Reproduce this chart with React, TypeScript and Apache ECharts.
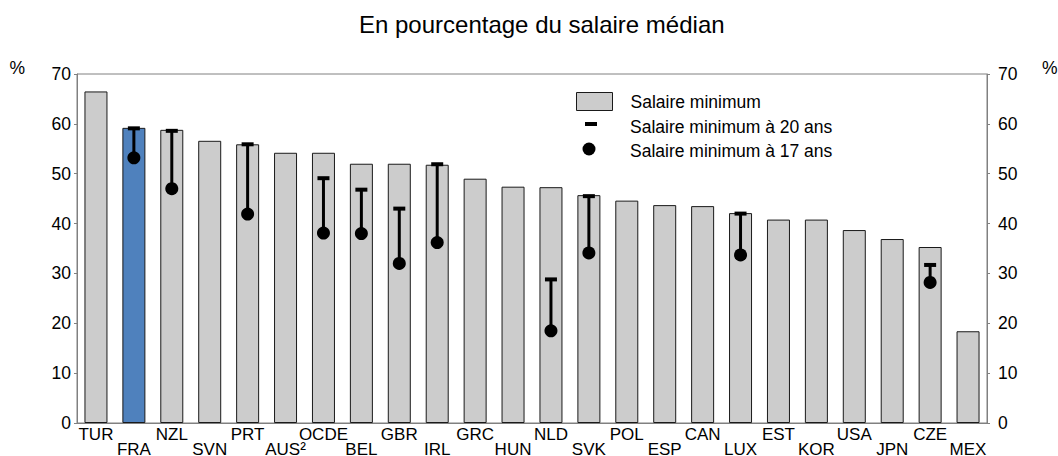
import React, { useEffect, useRef } from "react";
import * as echarts from "echarts";

const categories = ["TUR", "FRA", "NZL", "SVN", "PRT", "AUS²", "OCDE", "BEL", "GBR", "IRL", "GRC", "HUN", "NLD", "SVK", "POL", "ESP", "CAN", "LUX", "EST", "KOR", "USA", "JPN", "CZE", "MEX"];
const minWage = [66.5, 59.2, 58.8, 56.6, 55.9, 54.2, 54.2, 52.0, 52.0, 51.8, 49.0, 47.4, 47.3, 45.7, 44.6, 43.7, 43.5, 42.1, 40.8, 40.8, 38.7, 36.9, 35.3, 18.4];
const minWage20 = [null, 59.1, 58.6, null, 55.9, null, 49.1, 46.8, 43.0, 51.9, null, null, 28.8, 45.5, null, null, null, 42.0, null, null, null, null, 31.7, null];
const minWage17 = [null, 53.2, 47.0, null, 41.9, null, 38.1, 38.0, 32.0, 36.2, null, null, 18.5, 34.1, null, null, null, 33.7, null, null, null, null, 28.2, null];
const yTicks = { min: 0, max: 70, interval: 10 };
const highlighted = "FRA";

const titleText = "En pourcentage du salaire médian";
const seriesNames = ["Salaire minimum", "Salaire minimum à 20 ans", "Salaire minimum à 17 ans"];

const FONT = "'Liberation Sans', Arial, sans-serif";

export default function App() {
  const ref = useRef<HTMLDivElement>(null);
  useEffect(() => {
    if (!ref.current) return;
    const chart = echarts.init(ref.current, null, { renderer: "svg" });

    const barData = minWage.map((v, i) =>
      categories[i] === highlighted ? { value: v, itemStyle: { color: "#4f81bd" } } : v
    );
    const whiskerData: any[] = [];
    minWage20.forEach((v, i) => {
      if (v != null && minWage17[i] != null) whiskerData.push([i, v, minWage17[i]]);
    });
    const d20: any[] = [];
    const d17: any[] = [];
    minWage20.forEach((v, i) => { if (v != null) d20.push([i, v]); });
    minWage17.forEach((v, i) => { if (v != null) d17.push([i, v]); });

    const axisCommon = {
      type: "value",
      min: yTicks.min,
      max: yTicks.max,
      interval: yTicks.interval,
      splitLine: { show: false },
      axisLine: { show: true, lineStyle: { color: "#808080", width: 1 } },
      axisTick: { show: true, length: 3, inside: false, lineStyle: { color: "#808080" } },
      name: "%",
      nameLocation: "end",
      nameGap: 6,
    };

    const legendText = { fontSize: 17.5, color: "#000", fontFamily: FONT };

    chart.setOption({
      animation: false,
      title: {
        text: titleText,
        left: 359,
        top: 12,
        padding: 0,
        textStyle: { fontFamily: FONT, fontSize: 24, fontWeight: "normal", color: "#000" },
      },
      grid: {
        left: 77,
        right: 71,
        top: 74,
        bottom: 33,
        show: true,
        borderColor: "#808080",
        borderWidth: 1,
        containLabel: false,
        outerBoundsMode: "none",
      },
      legend: [
        {
          data: [{ name: seriesNames[0], icon: "path://M0,0h36v18h-36z M49,18" }],
          left: 576,
          top: 92,
          padding: 0,
          itemWidth: 49,
          itemHeight: 18,
          itemStyle: { borderColor: "#1a1a1a", borderWidth: 1 },
          textStyle: legendText,
          selectedMode: false,
        },
        {
          data: [{ name: seriesNames[1], icon: "path://M0,0 M49,18 M9,4h12v4h-12z" }],
          left: 576,
          top: 118,
          padding: 0,
          itemWidth: 49,
          itemHeight: 18,
          textStyle: legendText,
          selectedMode: false,
        },
        {
          data: [{ name: seriesNames[2], icon: "path://M0,0 M49,18 M19.5,7a6.5,6.5 0 1,1 -13,0a6.5,6.5 0 1,1 13,0z" }],
          left: 576,
          top: 142,
          padding: 0,
          itemWidth: 49,
          itemHeight: 18,
          textStyle: legendText,
          selectedMode: false,
        },
      ],
      xAxis: {
        type: "category",
        data: categories,
        axisLine: { show: true, lineStyle: { color: "#808080" } },
        axisTick: { show: false },
        axisLabel: {
          interval: 0,
          margin: 4,
          fontSize: 17,
          lineHeight: 15,
          color: "#000",
          fontFamily: FONT,
          formatter: (v: string, i: number) => (i % 2 ? "\n" + v : v),
        },
      },
      yAxis: [
        {
          ...axisCommon,
          position: "left",
          axisLabel: { margin: 6, fontSize: 17.5, color: "#000", fontFamily: FONT },
          nameTextStyle: { align: "right", verticalAlign: "middle", padding: [0, 52, 0, 0], fontSize: 17.5, color: "#000", fontFamily: FONT },
        },
        {
          ...axisCommon,
          position: "right",
          axisLabel: { margin: 11, fontSize: 17.5, color: "#000", fontFamily: FONT },
          nameTextStyle: { align: "left", verticalAlign: "middle", padding: [0, 0, 0, 55], fontSize: 17.5, color: "#000", fontFamily: FONT },
        },
      ],
      series: [
        {
          name: seriesNames[0],
          type: "bar",
          data: barData,
          barWidth: 23,
          itemStyle: { color: "#cccccc", borderColor: "#1a1a1a", borderWidth: 1 },
          z: 1,
        },
        {
          name: "whisker",
          type: "custom",
          data: whiskerData,
          encode: { x: 0, y: [1, 2] },
          renderItem: (params: any, api: any) => {
            const x = api.value(0);
            const p1 = api.coord([x, api.value(1)]);
            const p2 = api.coord([x, api.value(2)]);
            return {
              type: "line",
              shape: { x1: p1[0], y1: p1[1], x2: p2[0], y2: p2[1] },
              style: { stroke: "#000", lineWidth: 3 },
            };
          },
          z: 2,
        },
        {
          name: seriesNames[1],
          type: "scatter",
          data: d20,
          symbol: "rect",
          symbolSize: [12, 4],
          itemStyle: { color: "#000", opacity: 1 },
          z: 3,
        },
        {
          name: seriesNames[2],
          type: "scatter",
          data: d17,
          symbol: "circle",
          symbolSize: 13,
          itemStyle: { color: "#000", opacity: 1 },
          z: 3,
        },
      ],
    });
    return () => chart.dispose();
  }, []);
  return (
    <div
      ref={ref}
      style={{ position: "fixed", left: 0, top: 0, width: 1058, height: 456, background: "#fff" }}
    />
  );
}
